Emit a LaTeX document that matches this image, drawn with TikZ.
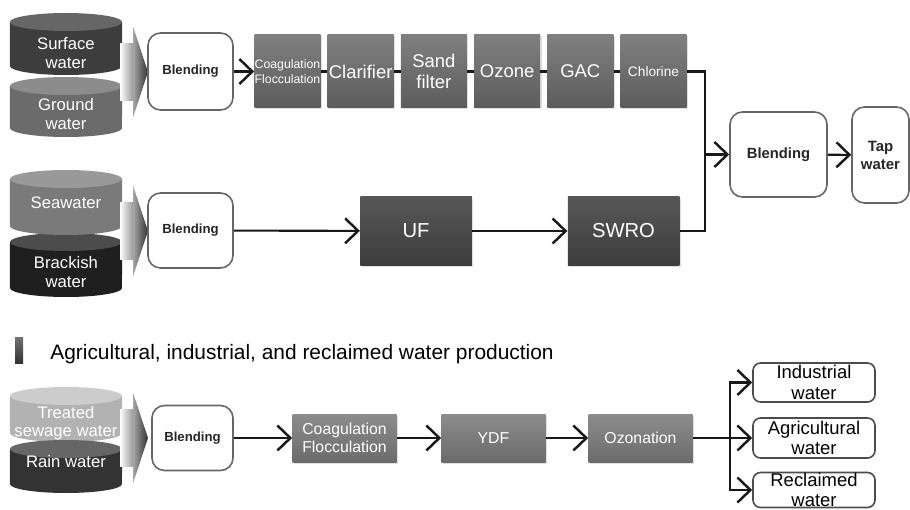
\documentclass[tikz,border=0pt]{standalone}
\usepackage{fontspec}
\setmainfont{Liberation Sans}
\usetikzlibrary{positioning,arrows.meta,shadows}

% tank: name, top, bottom, label y, body colour, lid colour, text
\newcommand{\tank}[7]{%
  \fill[#5] (0.2,#2) -- (0.2,#3) arc[start angle=180,end angle=360,x radius=1.12,y radius=0.18] -- (2.44,#2) -- cycle;
  \fill[#6] (1.32,#2) ellipse[x radius=1.12,y radius=0.18];
  \node[tanklabel] (#1) at (1.32,#4) {#7};
}
% chevron: centre y
\newcommand{\chev}[1]{%
  \shade[left color=white,right color=black!40] (2.4,#1-0.57) rectangle (2.66,#1+0.57);
  \shade[left color=black!35,right color=black!80] (2.66,#1+0.91) -- (2.96,#1) -- (2.66,#1-0.91) -- cycle;
}

\begin{document}
\begin{tikzpicture}[
    tanklabel/.style={text=white,align=center,inner sep=0pt,font=\fontsize{9.5}{10.5}\selectfont},
    blend/.style={draw=black!60,line width=0.9pt,fill=white,rounded corners=0.25cm,align=center,text=black!85,font=\bfseries\fontsize{7.5}{9}\selectfont},
    unit/.style={text=white,align=center,inner sep=0pt,drop shadow={opacity=0.25,shadow xshift=0.03cm,shadow yshift=-0.03cm}},
    topunit/.style={unit,top color=black!50,bottom color=black!64,minimum width=1.32cm,minimum height=1.46cm,font=\fontsize{10.5}{12}\selectfont},
    rounit/.style={unit,top color=black!66,bottom color=black!76,minimum width=2.23cm,minimum height=1.36cm,font=\fontsize{11.5}{13}\selectfont},
    lowunit/.style={unit,top color=black!45,bottom color=black!58,minimum width=2.08cm,minimum height=0.96cm,font=\fontsize{9}{10.2}\selectfont},
    product/.style={draw=black!70,line width=0.9pt,rounded corners=0.15cm,minimum width=2.44cm,align=center,inner sep=0pt,font=\fontsize{10.5}{11.8}\selectfont},
    pipe/.style={line width=1.2pt,black!90},
    flow/.style={pipe,-{Straight Barb[length=2.6mm,width=5mm,line width=1.4pt]}}
  ]
  \useasboundingbox (0,0) rectangle (18.2,10.18);

  % sources
  \tank{ground}{8.46}{7.62}{7.9}{black!58}{black!45}{Ground\\water}
  \tank{surface}{9.74}{8.86}{9.12}{black!76}{black!60}{Surface\\water}
  \tank{brackish}{5.34}{4.42}{4.74}{black!88}{black!70}{Brackish\\water}
  \tank{sea}{6.6}{5.66}{6.12}{black!52}{black!40}{Seawater}
  \tank{treated}{2.26}{1.52}{1.72}{black!30}{black!20}{Treated\\sewage water}
  \tank{rain}{1.2}{0.5}{0.94}{black!80}{black!60}{Rain water}
  \chev{8.74}
  \chev{5.56}
  \chev{1.42}

  % tap water line
  \node[blend,minimum width=1.7cm,minimum height=1.54cm] (blend1) at (3.81,8.75) {Blending};
  \node[topunit,font=\fontsize{7}{8.5}\selectfont] (coag) at (5.75,8.75) {Coagulation\\Flocculation};
  \node[topunit,right=0.13cm of coag] (clar) {Clarifier};
  \node[topunit,right=0.13cm of clar] (sand) {Sand\\filter};
  \node[topunit,right=0.13cm of sand] (ozone) {Ozone};
  \node[topunit,right=0.13cm of ozone] (gac) {GAC};
  \node[topunit,right=0.13cm of gac,font=\fontsize{7.8}{9}\selectfont] (chl) {Chlorine};

  \node[blend,minimum width=1.7cm,minimum height=1.5cm] (blend2) at (3.81,5.57) {Blending};
  \node[rounit] (uf) at (8.32,5.56) {UF};
  \node[rounit] (swro) at (12.47,5.56) {SWRO};

  \node[blend,minimum width=1.94cm,minimum height=1.7cm,font=\bfseries\fontsize{8.4}{10}\selectfont] (blend4) at (15.57,7.09) {Blending};
  \node[blend,minimum width=1.14cm,minimum height=1.92cm,font=\bfseries\fontsize{8.5}{10.3}\selectfont] (tap) at (17.61,7.08) {Tap\\water};
  \coordinate (jn) at (14.1,7.09);

  \draw[flow] (blend1) -- (coag);
  \draw[pipe] (coag) -- (clar);
  \draw[pipe] (clar) -- (sand);
  \draw[pipe] (sand) -- (ozone);
  \draw[pipe] (ozone) -- (gac);
  \draw[pipe] (gac) -- (chl);
  \draw[flow] (blend2) -- (uf);
  \draw[flow] (uf) -- (swro);
  \draw[pipe] (chl.east) -| (jn) |- (swro.east);
  \draw[flow] (jn) -- (blend4);
  \draw[flow] (blend4) -- (tap);

  % other water line
  \shade[top color=black!55,bottom color=black!80] (0.3,2.92) rectangle (0.46,3.44);
  \node[anchor=base west,inner sep=0pt,font=\fontsize{11.9}{13}\selectfont] (head) at (1.0,3.0) {Agricultural, industrial, and reclaimed water production};

  \node[blend,minimum width=1.62cm,minimum height=1.3cm] (blend3) at (3.85,1.42) {Blending};
  \node[lowunit] (coag2) at (6.89,1.42) {Coagulation\\Flocculation};
  \node[lowunit] (ydf) at (9.87,1.42) {YDF};
  \node[lowunit] (ozn) at (12.81,1.42) {Ozonation};
  \coordinate (split) at (14.6,1.42);

  \node[product,minimum height=0.78cm] (ind) at (16.28,2.53) {Industrial\\water};
  \node[product,minimum height=0.8cm] (agr) at (16.28,1.42) {Agricultural\\water};
  \node[product,minimum height=0.7cm] (rec) at (16.28,0.38) {Reclaimed\\water};

  \draw[flow] (blend3) -- (coag2);
  \draw[flow] (coag2) -- (ydf);
  \draw[flow] (ydf) -- (ozn);
  \draw[pipe] (ozn) -- (split);
  \draw[flow] (split) |- (ind);
  \draw[flow] (split) -- (agr);
  \draw[flow] (split) |- (rec);
\end{tikzpicture}
\end{document}
